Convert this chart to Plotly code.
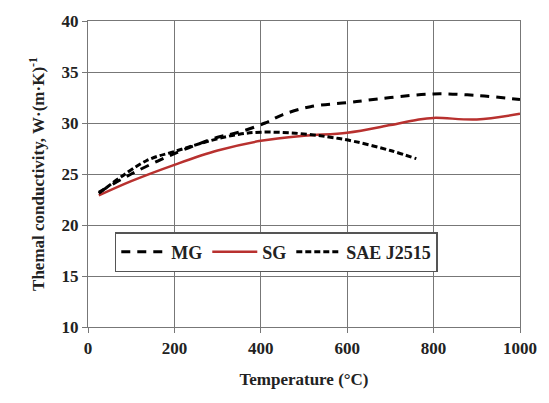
import plotly.graph_objects as go

mg_x = [25, 100, 200, 300, 350, 410, 450, 515, 600, 640, 700, 800, 900, 1000]
mg_y = [23.2, 25.0, 27.0, 28.6, 29.1, 30.0, 30.8, 31.6, 32.0, 32.2, 32.5, 32.85, 32.7, 32.3]

sg_x = [25, 100, 200, 300, 400, 500, 600, 700, 760, 800, 900, 1000]
sg_y = [22.9, 24.3, 25.9, 27.3, 28.25, 28.75, 29.05, 29.8, 30.3, 30.5, 30.35, 30.9]

sae_x = [25, 135, 200, 286, 350, 400, 480, 554, 616, 700, 760]
sae_y = [23.1, 26.3, 27.2, 28.3, 28.9, 29.1, 29.0, 28.65, 28.2, 27.3, 26.5]

x_ticks = [0, 200, 400, 600, 800, 1000]
y_ticks = [10, 15, 20, 25, 30, 35, 40]

font = "Liberation Serif"
tc = "#222"

fig = go.Figure()
fig.add_trace(go.Scatter(x=mg_x, y=mg_y, mode="lines", name="MG",
                         line=dict(color="black", width=3, dash="9px,7px", shape="spline")))
fig.add_trace(go.Scatter(x=sg_x, y=sg_y, mode="lines", name="SG",
                         line=dict(color="#b8312f", width=2.5, shape="spline")))
fig.add_trace(go.Scatter(x=sae_x, y=sae_y, mode="lines", name="SAE J2515",
                         line=dict(color="black", width=3, dash="6px,3px", shape="spline")))

fig.update_layout(
    width=549, height=403,
    margin=dict(l=88, r=24, t=20, b=76),
    paper_bgcolor="white", plot_bgcolor="white",
    font=dict(family=font, size=16, color=tc),
    showlegend=True,
    legend=dict(orientation="h", x=0.062, y=0.245, xanchor="left", yanchor="middle",
                bgcolor="white", bordercolor="#555", borderwidth=1.5,
                font=dict(family=font, size=18, color=tc, weight="bold"),
                itemwidth=45, tracegroupgap=0),
)
fig.update_xaxes(range=[0, 1000], tickvals=x_ticks, showgrid=True, gridcolor="#777", gridwidth=1.3,
                 showline=True, linecolor="#777", linewidth=1.3, mirror=True,
                 ticks="outside", ticklen=5, tickcolor="#777", zeroline=False,
                 tickfont=dict(family=font, size=17, color=tc, weight="bold"),
                 title=dict(text="Temperature (°C)", font=dict(family=font, size=17, color=tc, weight="bold"), standoff=16))
fig.update_yaxes(range=[10, 40], tickvals=y_ticks, showgrid=True, gridcolor="#777", gridwidth=1.3,
                 showline=True, linecolor="#777", linewidth=1.3, mirror=True,
                 ticks="outside", ticklen=5, tickcolor="#777", zeroline=False,
                 tickfont=dict(family=font, size=17, color=tc, weight="bold"),
                 title=dict(text="Themal conductivity, W·(m·K)<sup>-1</sup>",
                            font=dict(family=font, size=17, color=tc, weight="bold"), standoff=12))

fig.write_html("out.html")
